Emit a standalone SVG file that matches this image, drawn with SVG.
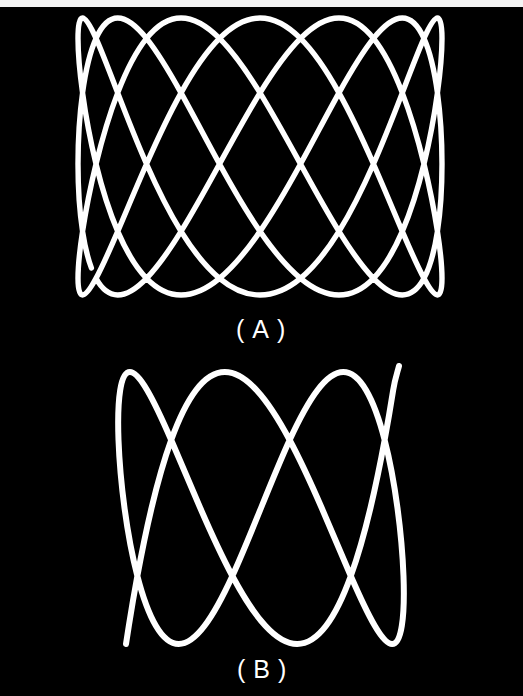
<svg xmlns="http://www.w3.org/2000/svg" width="523" height="696" viewBox="0 0 523 696">
<style>
.trace{fill:none;stroke:#ffffff;stroke-linecap:round;stroke-linejoin:round}
.lbl{font-family:"Liberation Sans",Arial,sans-serif;font-size:25px;fill:#ffffff;letter-spacing:8px}
</style>
<rect x="0" y="0" width="523" height="696" fill="#000000"/>
<rect x="0" y="0" width="523" height="7" fill="#f4f4f4"/>
<g id="figure-a">
<path class="trace" stroke-width="5.4" d="M 96.02,278.32 C 101.93,289.27 109.22,295 117.71,295 C 126.2,295 135.88,289.27 146.52,278.32 C 157.16,267.37 168.76,251.18 181.03,231.38 C 193.3,211.58 206.23,188.17 219.5,164 C 232.77,139.83 246.39,114.95 260,92.88 C 273.61,70.81 287.23,51.65 300.5,38.43 C 313.77,25.21 326.7,18 338.97,18 C 351.24,18 362.84,25.21 373.48,38.43 C 384.12,51.65 393.8,70.81 402.29,92.88 C 410.78,114.95 418.07,139.83 423.98,164 C 429.89,188.17 434.41,211.58 437.44,231.38 C 440.47,251.18 442,267.37 442,278.32 C 442,289.27 440.47,295 437.44,295 C 434.41,295 429.89,289.27 423.98,278.32 C 418.07,267.37 410.78,251.18 402.29,231.38 C 393.8,211.58 384.12,188.17 373.48,164 C 362.84,139.83 351.24,114.95 338.97,92.88 C 326.7,70.81 313.77,51.65 300.5,38.43 C 287.23,25.21 273.61,18 260,18 C 246.39,18 232.77,25.21 219.5,38.43 C 206.23,51.65 193.3,70.81 181.03,92.88 C 168.76,114.95 157.16,139.83 146.52,164 C 135.88,188.17 126.2,211.58 117.71,231.38 C 109.22,251.18 101.93,267.37 96.02,278.32 C 90.11,289.27 85.59,295 82.56,295 C 79.53,295 78,289.27 78,278.32 C 78,267.37 79.53,251.18 82.56,231.38 C 85.59,211.58 90.11,188.17 96.02,164 C 101.93,139.83 109.22,114.95 117.71,92.88 C 126.2,70.81 135.88,51.65 146.52,38.43 C 157.16,25.21 168.76,18 181.03,18 C 193.3,18 206.23,25.21 219.5,38.43 C 232.77,51.65 246.39,70.81 260,92.88 C 273.61,114.95 287.23,139.83 300.5,164 C 313.77,188.17 326.7,211.58 338.97,231.38 C 351.24,251.18 362.84,267.37 373.48,278.32 C 384.12,289.27 393.8,295 402.29,295 C 410.78,295 418.07,289.27 423.98,278.32 C 429.89,267.37 434.41,251.18 437.44,231.38 C 440.47,211.58 442,188.17 442,164 C 442,139.83 440.47,114.95 437.44,92.88 C 434.41,70.81 429.89,51.65 423.98,38.43 C 418.07,25.21 410.78,18 402.29,18 C 393.8,18 384.12,25.21 373.48,38.43 C 362.84,51.65 351.24,70.81 338.97,92.88 C 326.7,114.95 313.77,139.83 300.5,164 C 287.23,188.17 273.61,211.58 260,231.38 C 246.39,251.18 232.77,267.37 219.5,278.32 C 206.23,289.27 193.3,295 181.03,295 C 168.76,295 157.16,289.27 146.52,278.32 C 135.88,267.37 126.2,251.18 117.71,231.38 C 109.22,211.58 101.93,188.17 96.02,164 C 90.11,139.83 85.59,114.95 82.56,92.88 C 79.53,70.81 78,51.65 78,38.43 C 78,25.21 79.53,18 82.56,18 C 85.59,18 90.11,25.21 96.02,38.43 C 101.93,51.65 109.22,70.81 117.71,92.88 C 126.2,114.95 135.88,139.83 146.52,164 C 157.16,188.17 168.76,211.58 181.03,231.38 C 193.3,251.18 206.23,267.37 219.5,278.32 C 232.77,289.27 246.39,295 260,295 C 273.61,295 287.23,289.27 300.5,278.32 C 313.77,267.37 326.7,251.18 338.97,231.38 C 351.24,211.58 362.84,188.17 373.48,164 C 384.12,139.83 393.8,114.95 402.29,92.88 C 410.78,70.81 418.07,51.65 423.98,38.43 C 429.89,25.21 434.41,18 437.44,18 C 440.47,18 442,25.21 442,38.43 C 442,51.65 440.47,70.81 437.44,92.88 C 434.41,114.95 429.89,139.83 423.98,164 C 418.07,188.17 410.78,211.58 402.29,231.38 C 393.8,251.18 384.12,267.37 373.48,278.32 C 362.84,289.27 351.24,295 338.97,295 C 326.7,295 313.77,289.27 300.5,278.32 C 287.23,267.37 273.61,251.18 260,231.38 C 246.39,211.58 232.77,188.17 219.5,164 C 206.23,139.83 193.3,114.95 181.03,92.88 C 168.76,70.81 157.16,51.65 146.52,38.43 C 135.88,25.21 126.2,18 117.71,18 C 109.22,18 101.93,25.21 96.02,38.43 C 90.11,51.65 85.59,70.81 82.56,92.88 C 79.53,114.95 78,139.83 78,164 C 78,188.17 79.53,211.58 82.56,231.38 C 84.74,245.64 87.69,258.02 91.38,267.93"/>
<text class="lbl" x="236" y="338">(A)</text>
</g>
<g id="figure-b">
<path class="trace" stroke-width="6" d="M 399,366 C 397.5,372 395.05,378.35 393.16,390.22 C 391.27,402.09 388.43,419.44 384.64,440 C 380.85,460.56 376.12,484.26 370.46,508 C 364.8,531.74 358.22,555.44 350.79,576 C 343.36,596.56 335.07,613.91 326.07,625.78 C 317.07,637.65 307.36,644 297.15,644 C 286.94,644 276.24,637.65 265.33,625.78 C 254.42,613.91 243.32,596.56 232.35,576 C 221.38,555.44 210.57,531.74 200.26,508 C 189.95,484.26 180.15,460.56 171.21,440 C 162.27,419.44 154.18,402.09 147.21,390.22 C 140.25,378.35 134.4,372 129.86,372 C 125.32,372 122.07,378.35 120.18,390.22 C 118.29,402.09 117.74,419.44 118.5,440 C 119.26,460.56 121.31,484.26 124.51,508 C 127.71,531.74 132.06,555.44 137.36,576 C 142.66,596.56 148.91,613.91 155.87,625.78 C 162.84,637.65 170.52,644 178.71,644 C 186.9,644 195.59,637.65 204.59,625.78 C 213.59,613.91 222.9,596.56 232.35,576 C 241.8,555.44 251.4,531.74 261,508 C 270.6,484.26 280.2,460.56 289.65,440 C 299.1,419.44 308.41,402.09 317.41,390.22 C 326.41,378.35 335.1,372 343.29,372 C 351.48,372 359.17,378.35 366.13,390.22 C 373.1,402.09 379.34,419.44 384.64,440 C 389.94,460.56 394.29,484.26 397.49,508 C 400.69,531.74 402.74,555.44 403.5,576 C 404.26,596.56 403.71,613.91 401.82,625.78 C 399.93,637.65 396.68,644 392.14,644 C 387.6,644 381.76,637.65 374.79,625.78 C 367.83,613.91 359.73,596.56 350.79,576 C 341.85,555.44 332.05,531.74 321.74,508 C 311.43,484.26 300.62,460.56 289.65,440 C 278.68,419.44 267.58,402.09 256.67,390.22 C 245.76,378.35 235.06,372 224.85,372 C 214.64,372 204.93,378.35 195.93,390.22 C 186.93,402.09 178.64,419.44 171.21,440 C 163.78,460.56 157.2,484.26 151.54,508 C 145.88,531.74 141.15,555.44 137.36,576 C 133.57,596.56 130.73,613.91 128.84,625.78 C 126.95,637.65 126,644 126,644"/>
<text class="lbl" x="237" y="678">(B)</text>
</g>
</svg>
